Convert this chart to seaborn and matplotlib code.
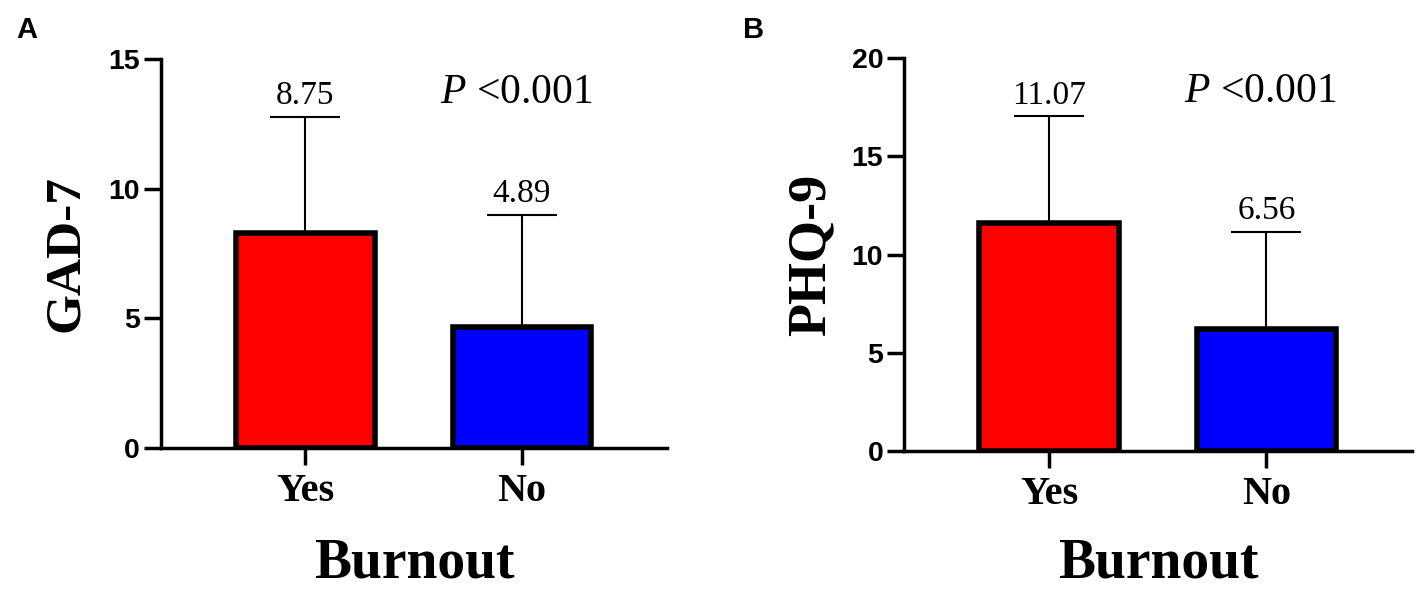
import matplotlib
matplotlib.use("Agg")
import matplotlib.pyplot as plt
import seaborn as sns
import pandas as pd
import numpy as np

# ---- data ----
groups = ["Yes", "No"]
gad7_mean = [8.29, 4.65]
gad7_sd = [4.49, 4.34]
gad7_labels = ["8.75", "4.89"]
phq9_mean = [11.61, 6.19]
phq9_sd = [5.42, 4.96]
phq9_labels = ["11.07", "6.56"]
bar_colors = ["#FF0000", "#0000FF"]
p_text = "$P$ <0.001"

sns.set_theme(style="ticks")
plt.rcParams['font.family'] = ['Liberation Serif', 'DejaVu Serif']
plt.rcParams['mathtext.fontset'] = 'custom'
plt.rcParams['mathtext.it'] = 'Liberation Serif:italic'
plt.rcParams['mathtext.rm'] = 'Liberation Serif'
for k in ['text.color', 'axes.labelcolor', 'xtick.color', 'ytick.color', 'axes.edgecolor']:
    plt.rcParams[k] = 'black'

fig = plt.figure(figsize=(14.18, 5.92), dpi=100)
axA = fig.add_axes([0.1135, 0.2432, 0.3569, 0.6571])
axB = fig.add_axes([0.6375, 0.2380, 0.3583, 0.6639])

panels = [
    (axA, gad7_mean, gad7_sd, gad7_labels, "GAD-7", 37, -0.142, -0.332, 15, [0, 5, 10, 15], "A", 16),
    (axB, phq9_mean, phq9_sd, phq9_labels, "PHQ-9", 39, -0.134, -0.322, 20, [0, 5, 10, 15, 20], "B", 743),
]

for ax, means, sds, labels, ylab, ylsize, ylx, xly, ymax, yticks, letter, lx in panels:
    df = pd.DataFrame({"Burnout": groups, "value": means})
    sns.barplot(data=df, x="Burnout", y="value", hue="Burnout", palette=bar_colors,
                order=groups, hue_order=groups, legend=False, errorbar=None,
                saturation=1, width=0.64, edgecolor="black", linewidth=4,
                ax=ax, zorder=3)
    xs = np.arange(len(groups))
    ax.errorbar(xs, means, yerr=[np.zeros(len(sds)), sds], fmt="none",
                ecolor="black", elinewidth=1.5, capsize=25.5, capthick=1.5, zorder=2)
    for x, m, s, lab in zip(xs, means, sds, labels):
        ax.annotate(lab, (x, m + s), xytext=(0, 9), textcoords="offset points",
                    ha="center", va="baseline", fontsize=24,
                    family="Liberation Serif", color="black")
    ax.text(0.62, 0.887, p_text, transform=ax.get_xaxis_transform(),
            ha="left", va="baseline", fontsize=30, family="Liberation Serif",
            color="black")

    ax.set_xlim(-0.667, 1.67)
    ax.set_ylim(0, ymax)
    ax.set_yticks(yticks)
    sns.despine(ax=ax)
    for sp in ["left", "bottom"]:
        ax.spines[sp].set_linewidth(2.5)
        ax.spines[sp].set_color("black")
    ax.tick_params(axis="both", direction="out", length=12, width=2.5, color="black")
    ax.tick_params(axis="y", pad=3)
    ax.tick_params(axis="x", pad=6)
    for t in ax.get_yticklabels():
        t.set_family("Liberation Sans")
        t.set_fontweight("bold")
        t.set_fontsize(20.5)
        t.set_color("black")
    for t in ax.get_xticklabels():
        t.set_family("Liberation Serif")
        t.set_fontweight("bold")
        t.set_fontsize(29)
        t.set_color("black")
    ax.set_ylabel(ylab, fontsize=ylsize, fontweight="bold", family="Liberation Serif", color="black")
    ax.set_xlabel("Burnout", fontsize=40, fontweight="bold", family="Liberation Serif", color="black")
    ax.yaxis.set_label_coords(ylx, 0.5)
    ax.xaxis.set_label_coords(0.5, xly)
    ax.xaxis.label.set_va("baseline")
    fig.text(lx / 1418, 1 - 38 / 592, letter, ha="left", va="baseline",
             fontsize=21, fontweight="bold", family="Liberation Sans", color="black")

fig.savefig("out.png", dpi=100, facecolor="white")
